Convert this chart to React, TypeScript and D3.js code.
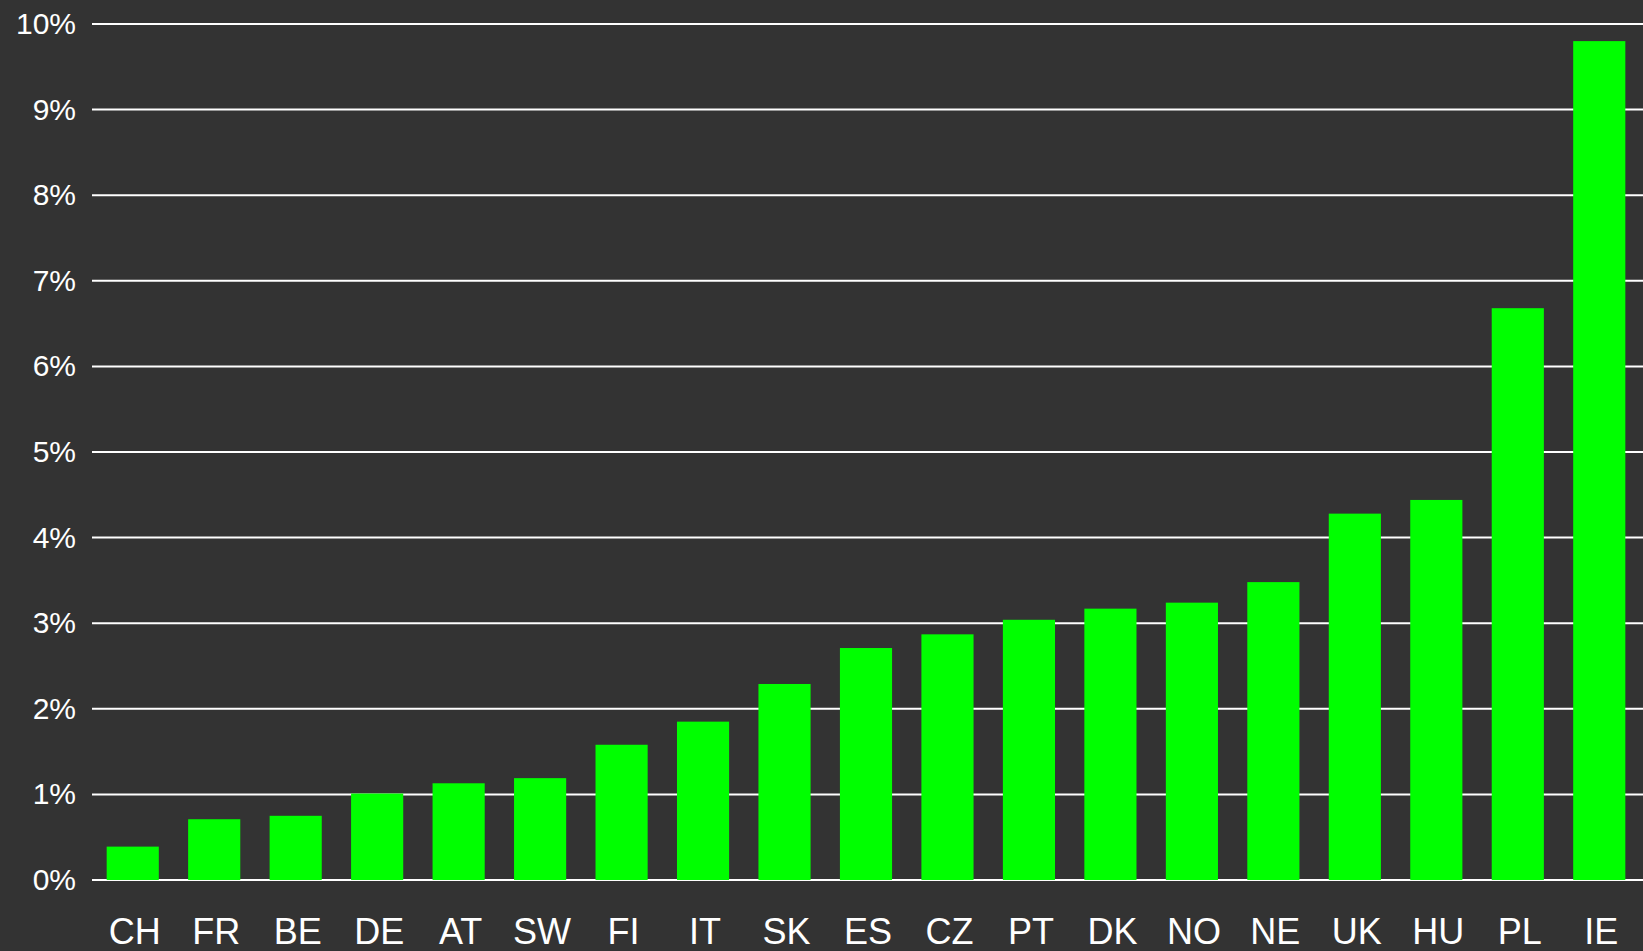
import React, { useEffect, useRef } from 'react';
import * as d3 from 'd3';

const countries = ['CH', 'FR', 'BE', 'DE', 'AT', 'SW', 'FI', 'IT', 'SK', 'ES', 'CZ', 'PT', 'DK', 'NO', 'NE', 'UK', 'HU', 'PL', 'IE'];
const values = [0.39, 0.71, 0.75, 1.01, 1.13, 1.19, 1.58, 1.85, 2.29, 2.71, 2.87, 3.04, 3.17, 3.24, 3.48, 4.28, 4.44, 6.68, 9.8];
const yTicks = [0, 1, 2, 3, 4, 5, 6, 7, 8, 9, 10];

const App = () => {
  const svgRef = useRef(null);

  useEffect(() => {
    document.body.style.margin = '0';
    document.body.style.overflow = 'hidden';
    document.body.style.background = '#333333';

    const width = 1643;
    const height = 951;
    const margin = { top: 24, right: 3, bottom: 71, left: 92 };

    const svg = d3.select(svgRef.current);
    svg.selectAll('*').remove();
    svg.attr('width', width).attr('height', height);

    svg.append('rect').attr('width', width).attr('height', height).attr('fill', '#333333');

    const x = d3
      .scaleBand()
      .domain(countries)
      .range([margin.left, width - margin.right])
      .paddingInner(0.36)
      .paddingOuter(0.18);

    const y = d3
      .scaleLinear()
      .domain([0, 10])
      .range([height - margin.bottom, margin.top]);

    // gridlines
    svg
      .append('g')
      .selectAll('line')
      .data(yTicks)
      .join('line')
      .attr('x1', margin.left)
      .attr('x2', width)
      .attr('y1', (d) => y(d))
      .attr('y2', (d) => y(d))
      .attr('stroke', '#ffffff')
      .attr('stroke-width', 2);

    // y labels
    svg
      .append('g')
      .selectAll('text')
      .data(yTicks)
      .join('text')
      .attr('x', 76)
      .attr('y', (d) => y(d))
      .attr('dy', '0.33em')
      .attr('text-anchor', 'end')
      .attr('fill', '#ffffff')
      .style('font', '30px "Liberation Sans", Arial, sans-serif')
      .text((d) => `${d}%`);

    // bars
    svg
      .append('g')
      .selectAll('rect')
      .data(values)
      .join('rect')
      .attr('x', (d, i) => x(countries[i]))
      .attr('width', x.bandwidth())
      .attr('y', (d) => y(d))
      .attr('height', (d) => y(0) - y(d))
      .attr('fill', '#00ff00');

    // x labels
    svg
      .append('g')
      .selectAll('text')
      .data(countries)
      .join('text')
      .attr('x', (d) => x(d) + x.bandwidth() / 2 + 2)
      .attr('y', 944)
      .attr('text-anchor', 'middle')
      .attr('fill', '#ffffff')
      .style('font', '36px "Liberation Sans", Arial, sans-serif')
      .text((d) => d);
  }, []);

  return (
    <svg
      ref={svgRef}
      style={{ position: 'absolute', top: 0, left: 0, display: 'block' }}
    />
  );
};

export default App;
